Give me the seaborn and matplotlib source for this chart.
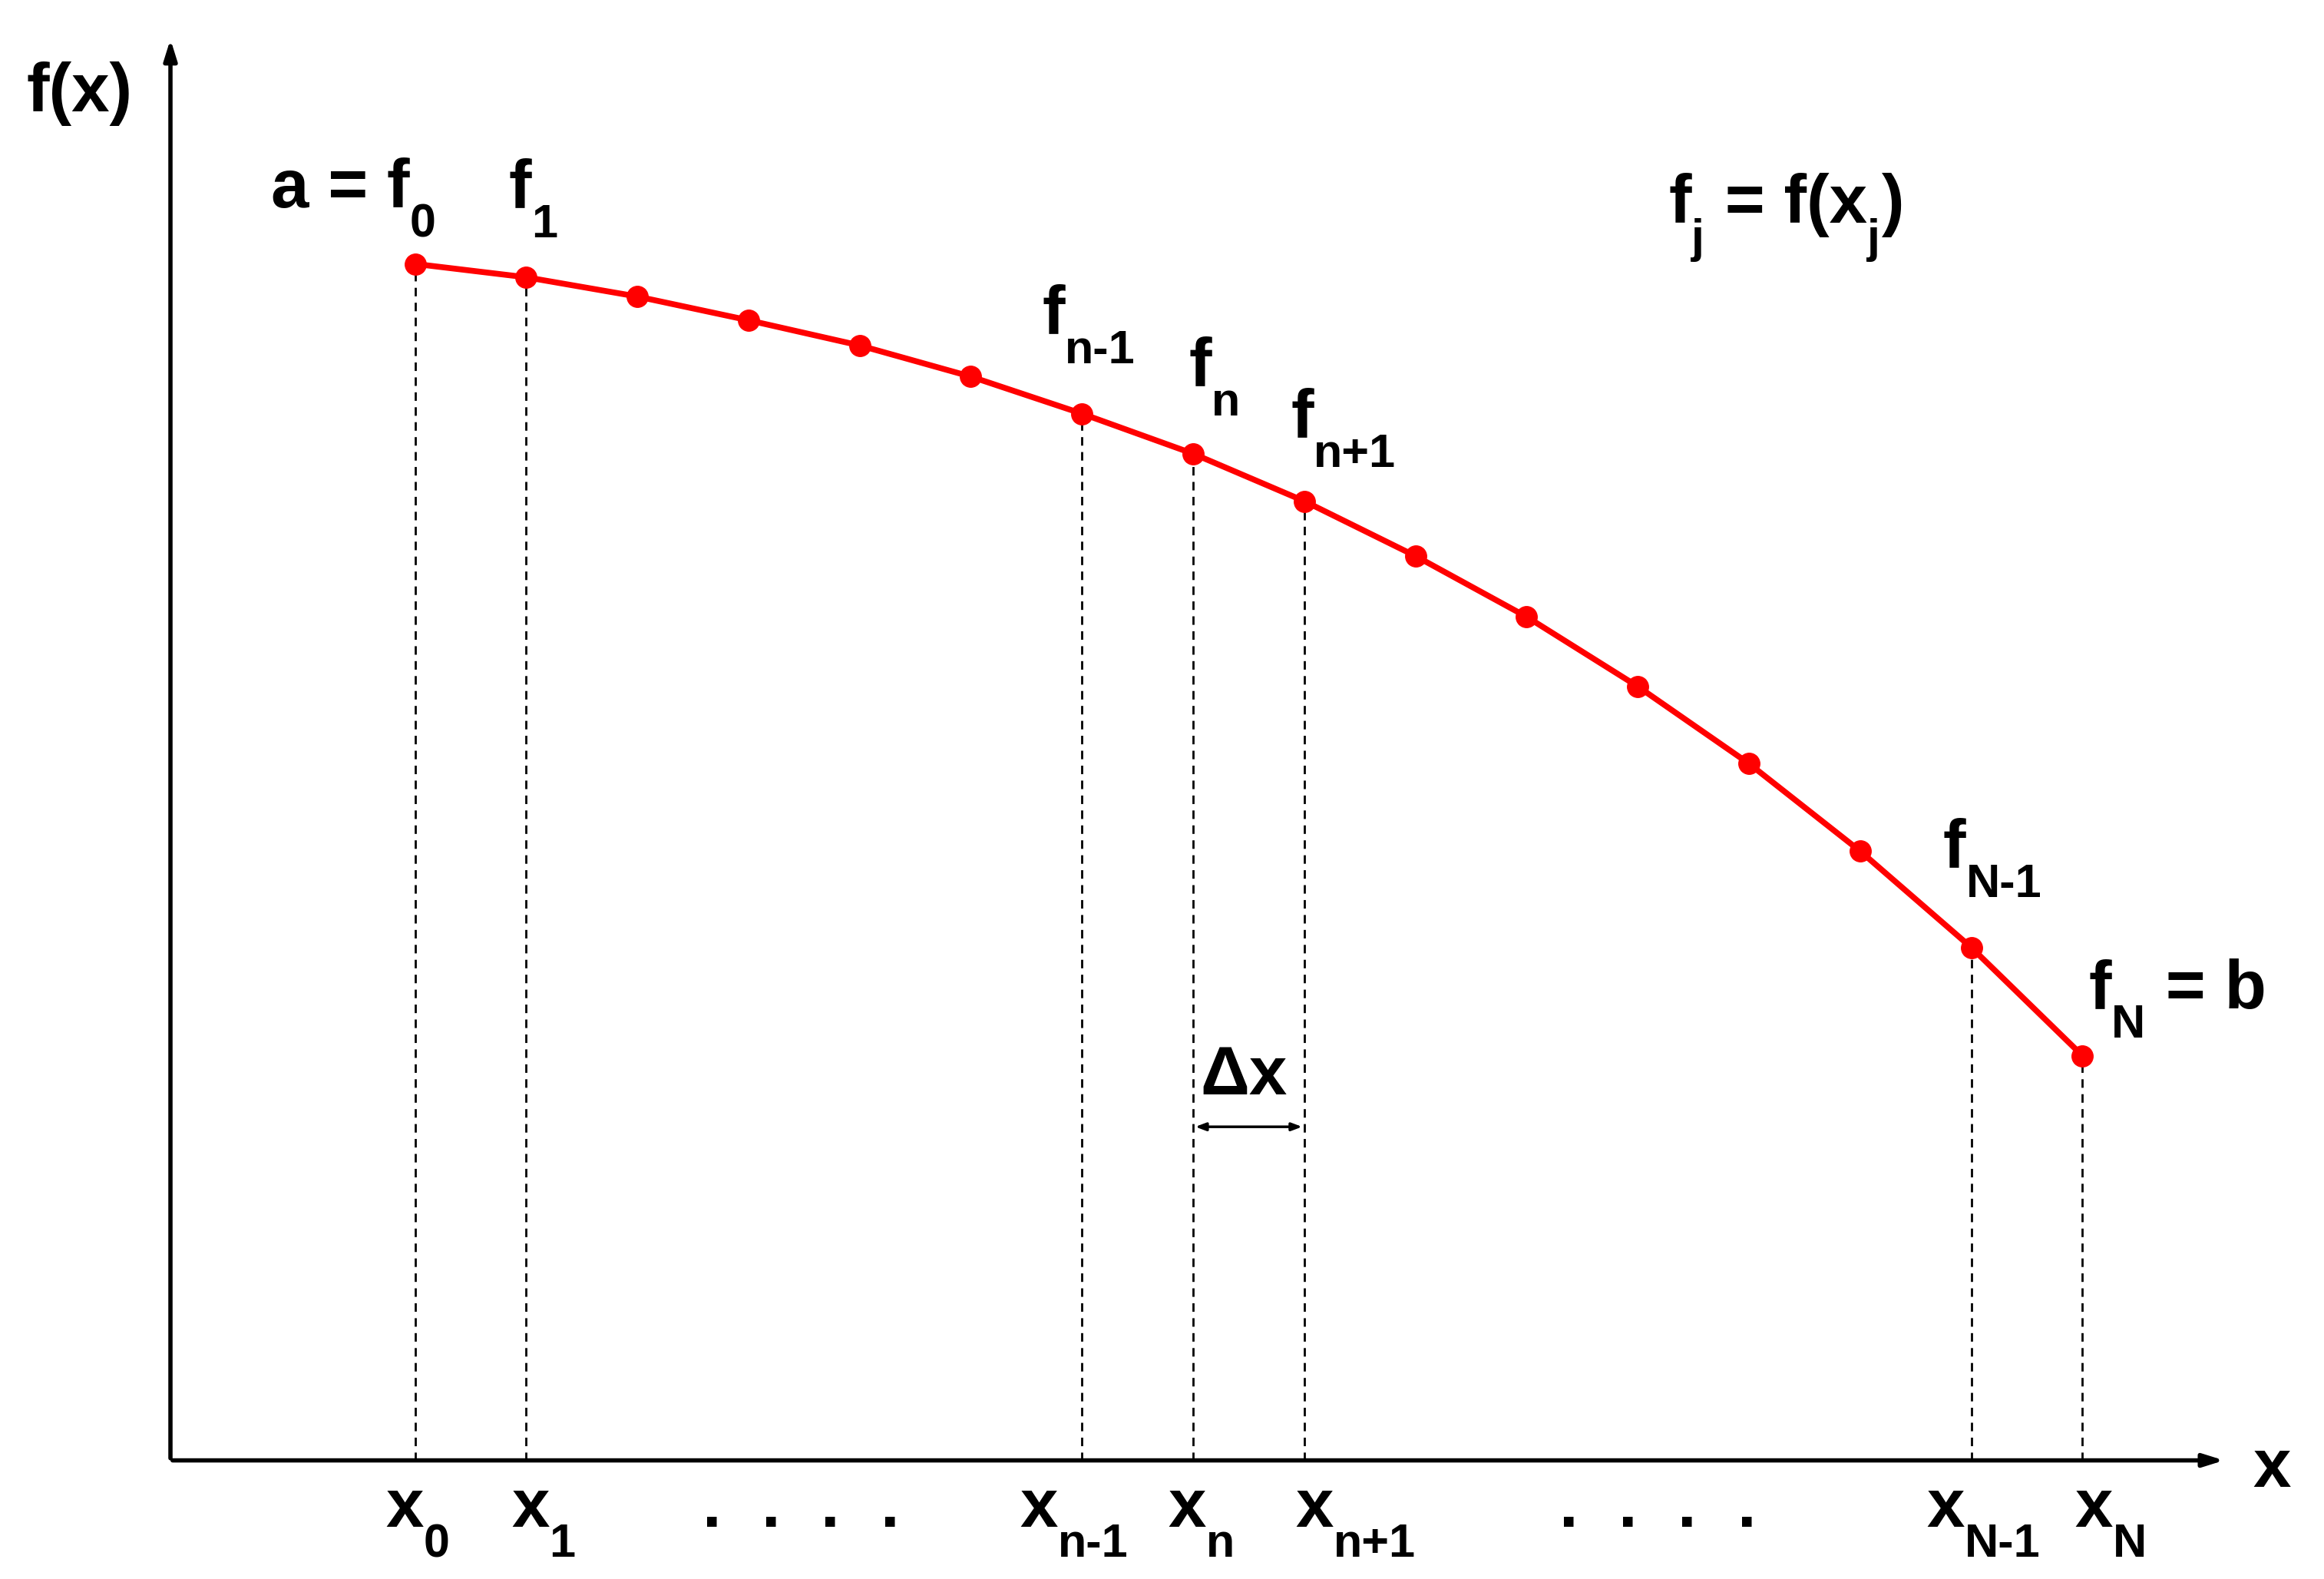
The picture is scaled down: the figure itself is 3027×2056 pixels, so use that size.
import matplotlib.pyplot as plt
import seaborn as sns
import pandas as pd

# grid index and function values (height above the x axis)
idx = list(range(16))
f_vals = [807, 798, 785, 769, 752, 731, 706, 679, 647, 610, 569, 522, 470, 411, 346, 273]
dashed_idx = [0, 1, 6, 7, 8, 14, 15]

sns.set_style("white")
plt.rcParams['font.family'] = ['Liberation Sans', 'DejaVu Sans']
plt.rcParams['text.color'] = 'black'

W, H = 1568, 1065  # reference layout units
SC = 3027 / W      # real pixels per layout unit


def px(x, y):
    """layout coords -> data coords"""
    return (x - 280) / 75.0, 985 - y


fig = plt.figure(figsize=(30.27, 20.56), dpi=100)
ax = fig.add_axes([0, 0, 1, 1])
ax.set_xlim(px(0, 0)[0], px(W, 0)[0])
ax.set_ylim(985 - H, 985)
ax.axis('off')

df = pd.DataFrame({'i': idx, 'f': f_vals})
sns.lineplot(data=df, x='i', y='f', ax=ax, color='red', lw=5.5,
             marker='o', markersize=20, markeredgecolor='red', zorder=3)

for i in dashed_idx:
    ax.plot([i, i], [0, f_vals[i]], color='black', ls=(0, (4, 3)), lw=2, zorder=2)

x0, y0 = px(115, 985)
ax.annotate('', xy=px(1502, 985), xytext=(x0, y0),
            arrowprops=dict(arrowstyle='-|>,head_length=1.6,head_width=0.5', lw=4, color='black'))
ax.annotate('', xy=px(115, 25), xytext=(x0, y0),
            arrowprops=dict(arrowstyle='-|>,head_length=1.6,head_width=0.5', lw=4, color='black'))
ax.annotate('', xy=(8, 985 - 760), xytext=(7, 985 - 760),
            arrowprops=dict(arrowstyle='<|-|>,head_length=0.8,head_width=0.3', lw=2.5, color='black'))

fs, fs_sub, sub_drop = 64, 44, 20
labels = [
    (18, 75, [('f(x)', 0)]),
    (183, 140, [('a = f', 0), ('0', 1)]),
    (343, 140, [('f', 0), ('1', 1)]),
    (1126, 150, [('f', 0), ('j', 1), (' = f(x', 0), ('j', 1), (')', 0)]),
    (703, 225, [('f', 0), ('n-1', 1)]),
    (802, 260, [('f', 0), ('n', 1)]),
    (871, 295, [('f', 0), ('n+1', 1)]),
    (1311, 585, [('f', 0), ('N-1', 1)]),
    (1409, 680, [('f', 0), ('N', 1), (' = b', 0)]),
    (810, 738, [('Δx', 0)]),
    (1520, 1003, [('x', 0)]),
    (260, 1030, [('x', 0), ('0', 1)]),
    (345, 1030, [('x', 0), ('1', 1)]),
    (688, 1030, [('x', 0), ('n-1', 1)]),
    (788, 1030, [('x', 0), ('n', 1)]),
    (874, 1030, [('x', 0), ('n+1', 1)]),
    (1300, 1030, [('x', 0), ('N-1', 1)]),
    (1400, 1030, [('x', 0), ('N', 1)]),
]

fig.canvas.draw()
r = fig.canvas.get_renderer()
for lx, ly, segs in labels:
    cur = lx
    for s, sub in segs:
        t = ax.text(*px(cur, ly + (sub_drop if sub else 0)), s,
                    fontsize=fs_sub if sub else fs, fontweight='bold',
                    ha='left', va='baseline')
        bb = t.get_window_extent(renderer=r)
        cur += bb.width / SC + (1 if sub else 0)

for start in (474, 1052):
    for k in range(4):
        ax.text(*px(start + 40 * k, 1030), '.', fontsize=fs, fontweight='bold',
                ha='left', va='baseline')

fig.savefig('out.png', dpi=100)
plt.close(fig)
